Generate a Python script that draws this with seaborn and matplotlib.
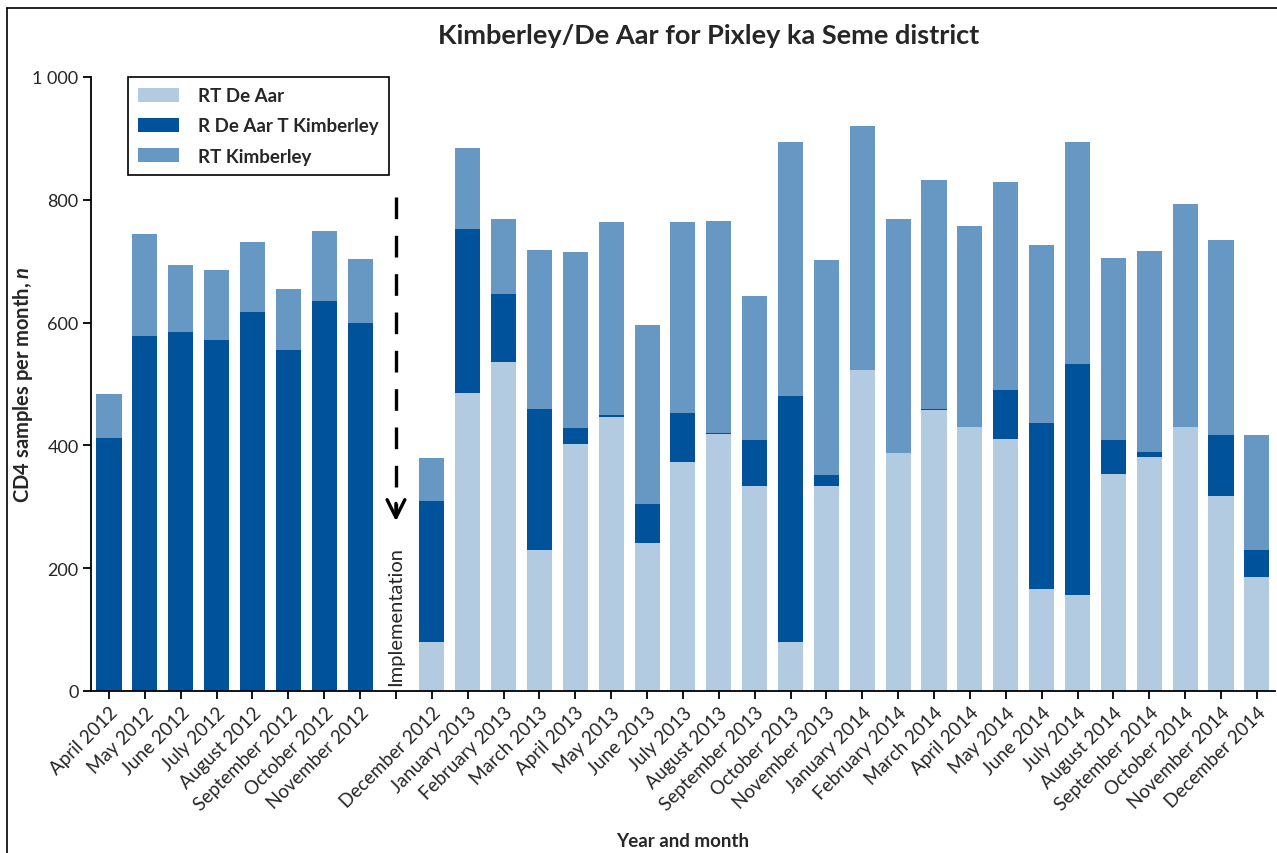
import matplotlib
matplotlib.use("Agg")
import matplotlib.pyplot as plt
import seaborn as sns
import pandas as pd
import numpy as np
from matplotlib.patches import Patch
from matplotlib.lines import Line2D

# Months (blank slot marks the implementation point)
months = ["April 2012", "May 2012", "June 2012", "July 2012", "August 2012",
          "September 2012", "October 2012", "November 2012", "",
          "December 2012", "January 2013", "February 2013", "March 2013",
          "April 2013", "May 2013", "June 2013", "July 2013", "August 2013",
          "September 2013", "October 2013", "November 2013", "January 2014",
          "February 2014", "March 2014", "April 2014", "May 2014", "June 2014",
          "July 2014", "August 2014", "September 2014", "October 2014",
          "November 2014", "December 2014"]

# RT De Aar
rt_de_aar = [0, 0, 0, 0, 0, 0, 0, 0, np.nan,
             80, 485, 536, 229, 402, 447, 241, 373, 419, 334, 80, 334,
             522, 388, 458, 430, 411, 166, 156, 353, 381, 430, 317, 186]
# R De Aar T Kimberley
r_de_aar_t_kim = [412, 578, 585, 572, 618, 555, 635, 599, np.nan,
                  230, 267, 110, 230, 26, 2, 63, 80, 1, 75, 400, 18,
                  1, 0, 1, 0, 79, 270, 376, 56, 8, 0, 100, 44]
# RT Kimberley
rt_kimberley = [71, 167, 108, 113, 114, 99, 114, 104, np.nan,
                69, 132, 122, 259, 287, 315, 292, 311, 345, 234, 414, 350,
                397, 380, 373, 328, 339, 290, 362, 296, 328, 363, 317, 187]

series_names = ["RT De Aar", "R De Aar T Kimberley", "RT Kimberley"]
series_colors = ["#B3CBE1", "#00539B", "#6798C4"]

df = pd.DataFrame({"month": months, "light": rt_de_aar,
                   "dark": r_de_aar_t_kim, "mid": rt_kimberley})
df["cum_dark"] = df["light"] + df["dark"]
df["cum_mid"] = df["cum_dark"] + df["mid"]

sns.set_style("white")
plt.rcParams["font.family"] = ["Lato", "DejaVu Sans"]
plt.rcParams["mathtext.fontset"] = "custom"
plt.rcParams["mathtext.it"] = "Lato:italic:bold"

fig = plt.figure(figsize=(12.77, 8.54), dpi=100)
ax = fig.add_axes([0.0713, 0.1897, 0.927, 0.719])

bw = 0.70
for col, color in [("cum_mid", series_colors[2]), ("cum_dark", series_colors[1]),
                   ("light", series_colors[0])]:
    sns.barplot(data=df, x="month", y=col, order=months, color=color,
                saturation=1, width=bw, errorbar=None, linewidth=0, ax=ax)

ax.set_xlim(-0.5, 32.5)
ax.set_ylim(0, 1000)
ax.set_yticks([0, 200, 400, 600, 800, 1000])
ax.set_yticklabels(["0", "200", "400", "600", "800", "1 000"], fontsize=13)
ax.set_xticks(range(len(months)))
ax.set_xticklabels(months, rotation=45, ha="right", rotation_mode="anchor",
                   fontsize=13.5)
sns.despine(ax=ax)
for s in ["left", "bottom"]:
    ax.spines[s].set_color("black")
    ax.spines[s].set_linewidth(1.3)
ax.tick_params(axis="both", which="major", direction="out", length=6,
               width=1.3, color="black", bottom=True, left=True, pad=3)

ax.set_xlabel("Year and month", fontsize=13.5, fontweight="bold")
ax.xaxis.set_label_coords(0.5, -0.23)
ax.set_ylabel("CD4 samples per month, $\\mathit{n}$", fontsize=14.5,
              fontweight="bold")
ax.yaxis.set_label_coords(-0.047, 0.5)
fig.text(0.555, 0.958, "Kimberley/De Aar for Pixley ka Seme district",
         ha="center", va="center", fontsize=19.5, fontweight="bold")

# implementation marker
impl = months.index("")
ax.plot([impl, impl], [805, 290], color="black", lw=2.4,
        dashes=(6.5, 5))
ax.annotate("", xy=(impl, 272), xytext=(impl, 310),
            arrowprops=dict(arrowstyle="->", color="black", lw=2.4,
                            mutation_scale=32))
ax.text(impl, 10, "Implementation", rotation=90, ha="center", va="bottom",
        fontsize=14.5)

handles = [Patch(facecolor=c, edgecolor="none") for c in series_colors]
leg = ax.legend(handles, series_names, loc="upper left",
                bbox_to_anchor=(0.031, 1.0), frameon=True, fancybox=False,
                edgecolor="black", framealpha=1, fontsize=13.5,
                handlelength=2.2, handleheight=0.8, labelspacing=0.7,
                borderpad=0.55, handletextpad=1.0, borderaxespad=0)
leg.get_frame().set_linewidth(1.2)
for t in leg.get_texts():
    t.set_fontweight("bold")

# figure border (left and top)
fig.add_artist(Line2D([0.0055, 0.0055], [0, 0.989], color="black", lw=1.2))
fig.add_artist(Line2D([0.0055, 1], [0.989, 0.989], color="black", lw=1.2))

fig.savefig("out.png", dpi=100)
